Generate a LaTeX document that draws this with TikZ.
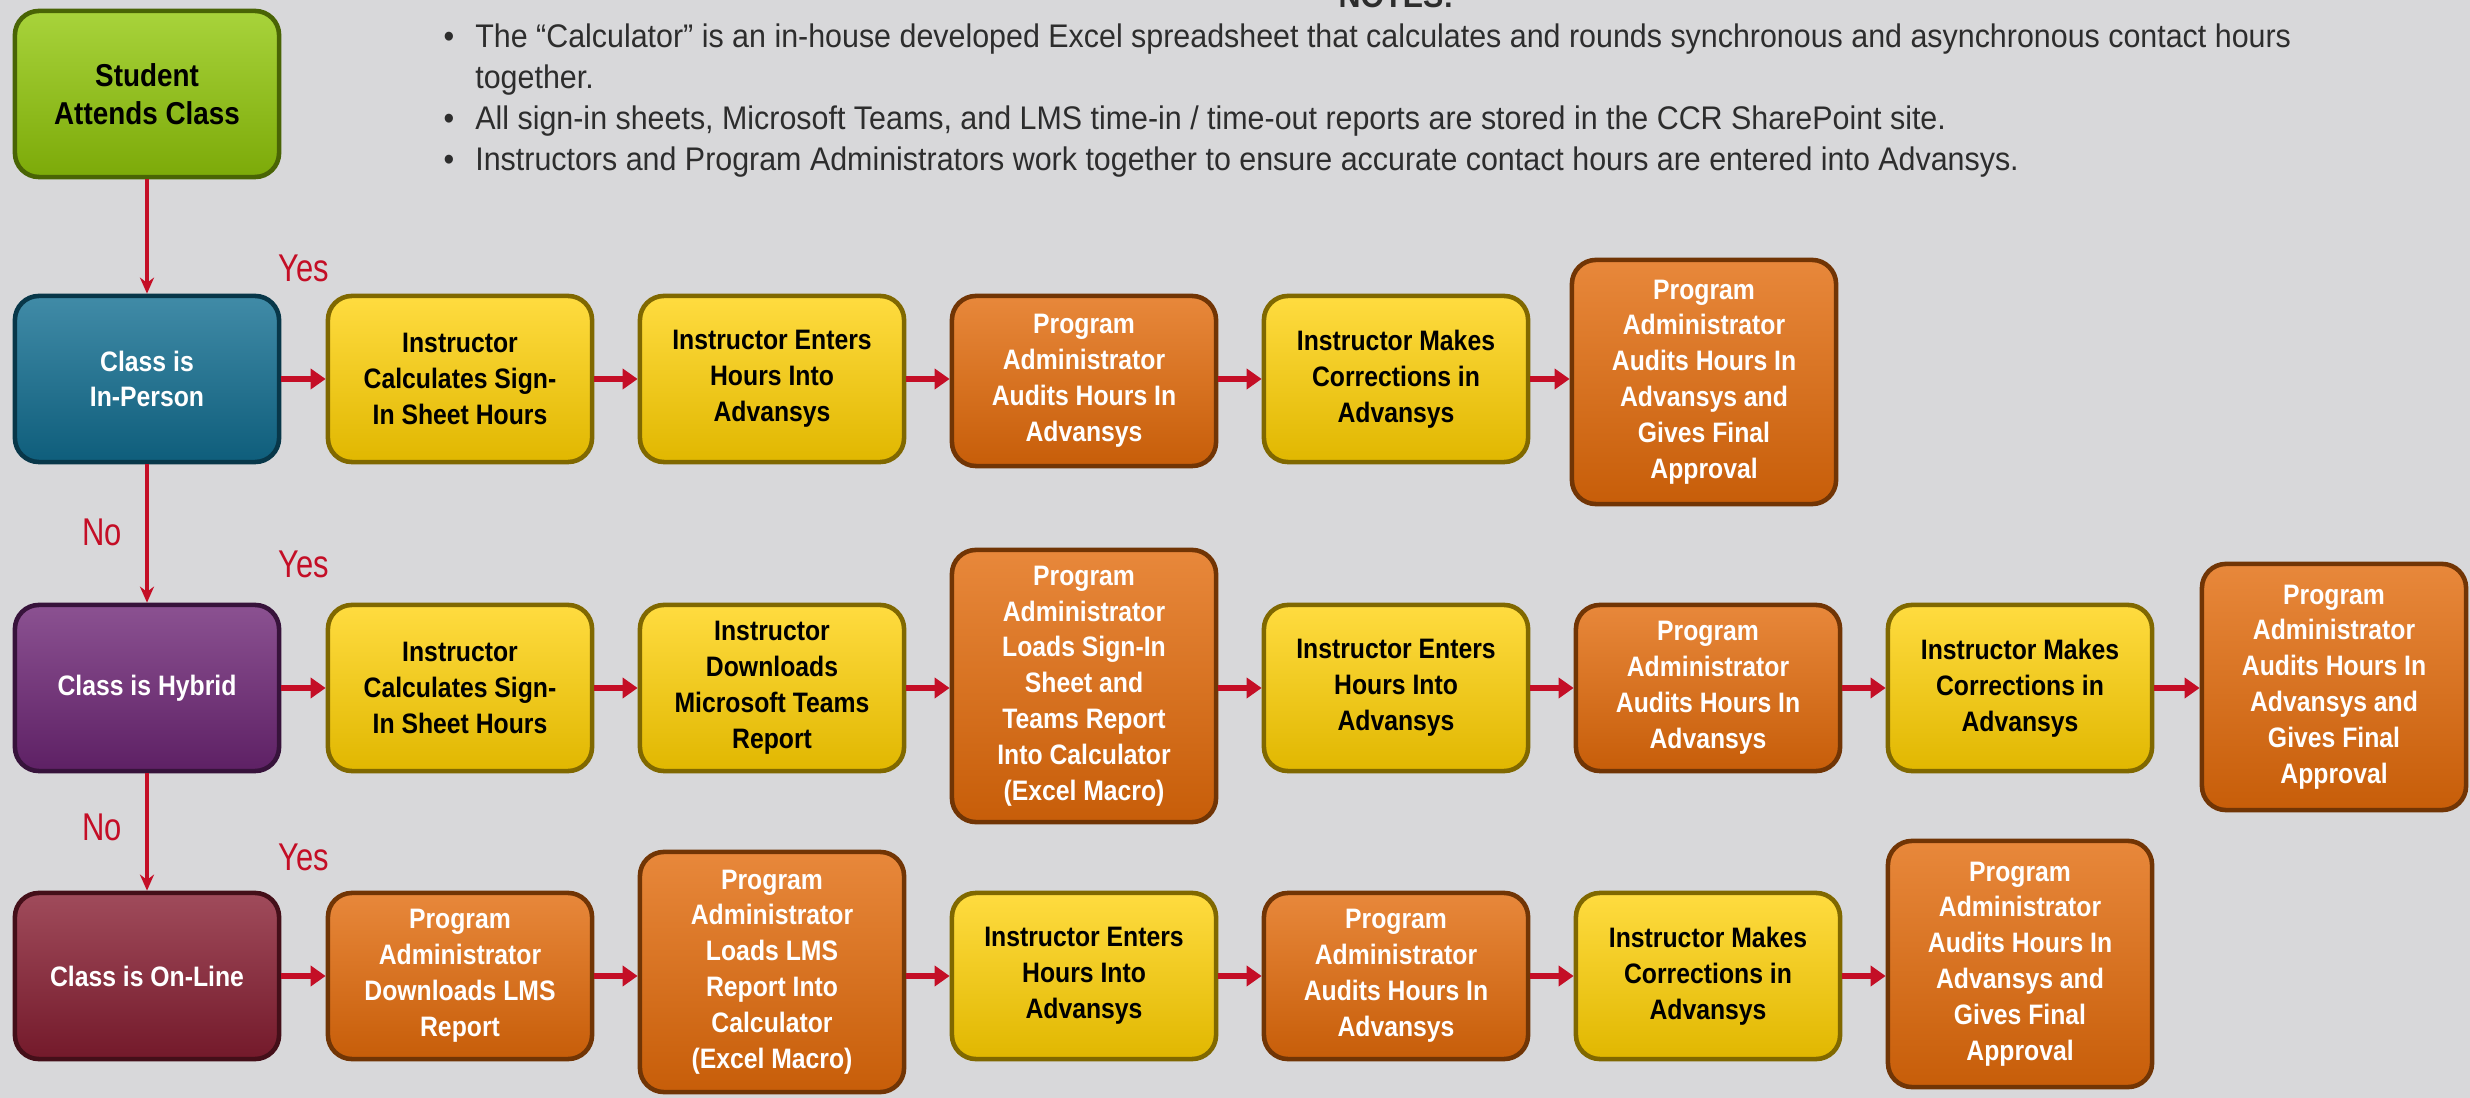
\documentclass[tikz,border=0pt]{standalone}
\usepackage{fontspec}
\setmainfont{Liberation Sans}
\newfontfamily\boxfont[FakeStretch=0.88]{Liberation Sans}
\newfontfamily\notefont[FakeStretch=0.93]{Liberation Sans}
\newfontfamily\labfont[FakeStretch=0.8]{Liberation Sans}
\usepackage{xcolor}
\usepackage{tikz}
\usetikzlibrary{arrows.meta, positioning}

\definecolor{bgcol}{RGB}{216,216,218}
\definecolor{stugreen}{RGB}{146,200,10}
\definecolor{inpblue}{RGB}{17,110,145}
\definecolor{hybpurple}{RGB}{110,38,118}
\definecolor{onlred}{RGB}{136,30,50}
\definecolor{boxyellow}{RGB}{255,208,0}
\definecolor{boxorange}{RGB}{226,106,10}
\definecolor{arrred}{RGB}{196,14,38}
\definecolor{notegray}{RGB}{45,45,45}

\begin{document}
\begin{tikzpicture}[
    x=0.01cm, y=-0.01cm,
    stepbox/.style={rounded corners=0.24cm, minimum width=2.64cm, minimum height=1.66cm,
      align=center, inner sep=2pt, line width=1.3pt,
      font=\boxfont\bfseries\fontsize{8}{10.2}\selectfont},
    yellowbox/.style={stepbox, draw=boxyellow!50!black, top color=boxyellow!75!white,
      middle color=boxyellow, bottom color=boxyellow!88!black, text=black},
    orangebox/.style={stepbox, draw=boxorange!50!black, top color=boxorange!80!white,
      middle color=boxorange, bottom color=boxorange!88!black, text=white},
    classbox/.style={stepbox, draw=#1!50!black, top color=#1!80!white,
      middle color=#1, bottom color=#1!85!black, text=white},
    flowarr/.style={-{Triangle[length=0.15cm, width=0.2cm]}, line width=1.5pt, arrred},
    downarr/.style={-{Stealth[length=0.16cm, width=0.14cm]}, line width=0.9pt, arrred},
    yesno/.style={text=arrred, font=\labfont\fontsize{11}{13}\selectfont}
  ]
  \fill[bgcol] (0,0) rectangle (2470,1098);
  \useasboundingbox (0,0) rectangle (2470,1098);

  % notes
  \node[anchor=base, text=notegray, font=\notefont\bfseries\fontsize{9.3}{11.6}\selectfont]
    (notes) at (1396,8) {NOTES:};
  \node[anchor=base west, inner sep=0pt, text=notegray,
    font=\notefont\fontsize{9.3}{11.6}\selectfont] (notelist) at (443,48) {%
    \begin{tabular}[t]{@{}l@{\hspace{0.21cm}}l@{}}
      \textbullet & The “Calculator” is an in-house developed Excel spreadsheet that calculates and rounds synchronous and asynchronous contact hours\\
      & together.\\
      \textbullet & All sign-in sheets, Microsoft Teams, and LMS time-in / time-out reports are stored in the CCR SharePoint site.\\
      \textbullet & Instructors and Program Administrators work together to ensure accurate contact hours are entered into Advansys.
    \end{tabular}};

  % first column
  \node[classbox=stugreen, text=black, font=\boxfont\bfseries\fontsize{9}{10.8}\selectfont]
    (stu) at (147,94) {Student\\Attends Class};
  \node[classbox=inpblue] (inp) at (147,379) {Class is\\In-Person};
  \node[classbox=hybpurple] (hyb) at (147,688) {Class is Hybrid};
  \node[classbox=onlred] (onl) at (147,976) {Class is On-Line};

  % in-person row
  \node[yellowbox] (inpcalc) at (460,379) {Instructor\\Calculates Sign-\\In Sheet Hours};
  \node[yellowbox] (inpenter) at (772,379) {Instructor Enters\\Hours Into\\Advansys};
  \node[orangebox, minimum height=1.70cm] (inpaudit) at (1084,381) {Program\\Administrator\\Audits Hours In\\Advansys};
  \node[yellowbox] (inpfix) at (1396,379) {Instructor Makes\\Corrections in\\Advansys};
  \node[orangebox, minimum height=2.44cm] (inpfinal) at (1704,382) {Program\\Administrator\\Audits Hours In\\Advansys and\\Gives Final\\Approval};

  % hybrid row
  \node[yellowbox] (hybcalc) at (460,688) {Instructor\\Calculates Sign-\\In Sheet Hours};
  \node[yellowbox] (hybteams) at (772,688) {Instructor\\Downloads\\Microsoft Teams\\Report};
  \node[orangebox, minimum height=2.72cm] (hybload) at (1084,686) {Program\\Administrator\\Loads Sign-In\\Sheet and\\Teams Report\\Into Calculator\\(Excel Macro)};
  \node[yellowbox] (hybenter) at (1396,688) {Instructor Enters\\Hours Into\\Advansys};
  \node[orangebox] (hybaudit) at (1708,688) {Program\\Administrator\\Audits Hours In\\Advansys};
  \node[yellowbox] (hybfix) at (2020,688) {Instructor Makes\\Corrections in\\Advansys};
  \node[orangebox, minimum height=2.46cm] (hybfinal) at (2334,687) {Program\\Administrator\\Audits Hours In\\Advansys and\\Gives Final\\Approval};

  % on-line row
  \node[orangebox] (onlget) at (460,976) {Program\\Administrator\\Downloads LMS\\Report};
  \node[orangebox, minimum height=2.40cm] (onlload) at (772,972) {Program\\Administrator\\Loads LMS\\Report Into\\Calculator\\(Excel Macro)};
  \node[yellowbox] (onlenter) at (1084,976) {Instructor Enters\\Hours Into\\Advansys};
  \node[orangebox] (onlaudit) at (1396,976) {Program\\Administrator\\Audits Hours In\\Advansys};
  \node[yellowbox] (onlfix) at (1708,976) {Instructor Makes\\Corrections in\\Advansys};
  \node[orangebox, minimum height=2.46cm] (onlfinal) at (2020,964) {Program\\Administrator\\Audits Hours In\\Advansys and\\Gives Final\\Approval};

  % yes / no
  \node[yesno] (yes1) at (304,268) {Yes};
  \node[yesno] (yes2) at (304,564) {Yes};
  \node[yesno] (yes3) at (304,857) {Yes};
  \node[yesno] (no1) at (102,532) {No};
  \node[yesno] (no2) at (102,827) {No};

  \draw[downarr] (stu) -- (inp);
  \draw[downarr] (inp) -- (hyb);
  \draw[downarr] (hyb) -- (onl);

  \draw[flowarr] (inp.east) -- (inp.east -| inpcalc.west);
  \draw[flowarr] (inpcalc.east) -- (inpcalc.east -| inpenter.west);
  \draw[flowarr] (inpenter.east) -- (inpenter.east -| inpaudit.west);
  \draw[flowarr] (inpfix.west -| inpaudit.east) -- (inpfix.west);
  \draw[flowarr] (inpfix.east) -- (inpfix.east -| inpfinal.west);

  \draw[flowarr] (hyb.east) -- (hyb.east -| hybcalc.west);
  \draw[flowarr] (hybcalc.east) -- (hybcalc.east -| hybteams.west);
  \draw[flowarr] (hybteams.east) -- (hybteams.east -| hybload.west);
  \draw[flowarr] (hybenter.west -| hybload.east) -- (hybenter.west);
  \draw[flowarr] (hybenter.east) -- (hybenter.east -| hybaudit.west);
  \draw[flowarr] (hybaudit.east) -- (hybaudit.east -| hybfix.west);
  \draw[flowarr] (hybfix.east) -- (hybfix.east -| hybfinal.west);

  \draw[flowarr] (onl.east) -- (onl.east -| onlget.west);
  \draw[flowarr] (onlget.east) -- (onlget.east -| onlload.west);
  \draw[flowarr] (onlenter.west -| onlload.east) -- (onlenter.west);
  \draw[flowarr] (onlenter.east) -- (onlenter.east -| onlaudit.west);
  \draw[flowarr] (onlaudit.east) -- (onlaudit.east -| onlfix.west);
  \draw[flowarr] (onlfix.east) -- (onlfix.east -| onlfinal.west);
\end{tikzpicture}
\end{document}
